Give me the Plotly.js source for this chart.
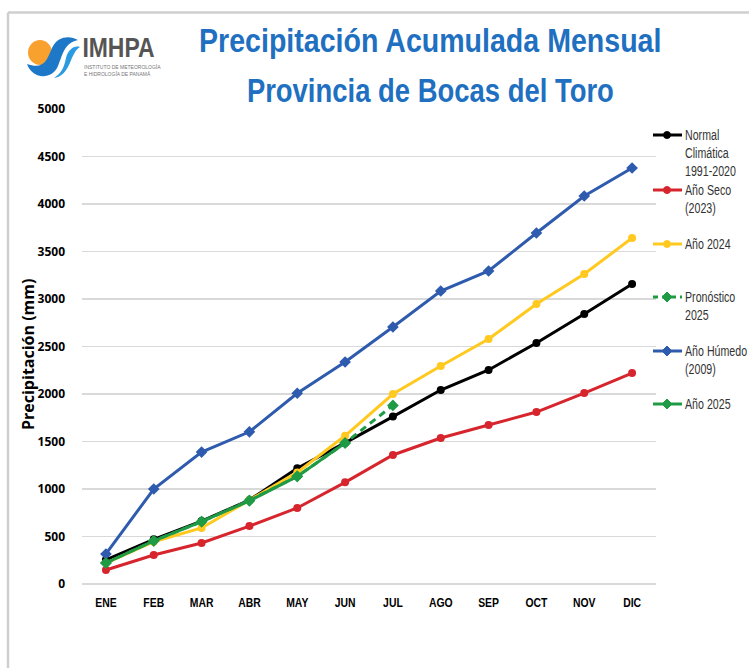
<!DOCTYPE html>
<html>
<head>
<meta charset="utf-8">
<script src="https://cdn.plot.ly/plotly-3.0.1.min.js"></script>
<style>
  html, body { margin: 0; padding: 0; background: #ffffff; }
  #chart { width: 749px; height: 668px; }
</style>
</head>
<body>
<div id="chart"></div>
<script>
// ---- Data ----
const months = ["ENE", "FEB", "MAR", "ABR", "MAY", "JUN", "JUL", "AGO", "SEP", "OCT", "NOV", "DIC"];
const normalClimatica = [255, 470, 662, 884, 1218, 1485, 1762, 2042, 2253, 2537, 2842, 3158];
const anoSeco2023 = [147, 305, 432, 610, 800, 1070, 1358, 1537, 1674, 1810, 2010, 2221];
const ano2024 = [220, 445, 590, 884, 1175, 1560, 2000, 2295, 2579, 2947, 3263, 3642];
const pronostico2025 = [221, 455, 656, 880, 1133, 1484, 1880];
const anoHumedo2009 = [316, 1000, 1389, 1602, 2008, 2337, 2705, 3084, 3295, 3695, 4084, 4379];
const ano2025 = [221, 455, 656, 876, 1133, 1484];
const yTicks = [0, 500, 1000, 1500, 2000, 2500, 3000, 3500, 4000, 4500, 5000];

const legendLabels = [
  "Normal<br>Climática<br>1991-2020",
  "Año Seco<br>(2023)",
  "Año 2024",
  "Pronóstico<br>2025",
  "Año Húmedo<br>(2009)",
  "Año 2025"
];

const C_BLACK = "#000000", C_RED = "#D7252E", C_YEL = "#FFC91F",
      C_BLUE = "#2E5BAD", C_GREEN = "#1F9A45", C_TITLE = "#1F70C1";

const SANS = "Liberation Sans, Arial, sans-serif";
const OPEN = "Open Sans, Liberation Sans, sans-serif";

// ---- Geometry helpers (page pixels -> paper coords) ----
const L = 82, R = 656, T = 109, B = 584;
const W = 749, H = 668;
function px(x) { return (x - L) / (R - L); }
function py(y) { return (B - y) / (B - T); }

function series(y, color, symbol, dash, name) {
  return {
    x: months.slice(0, y.length), y: y, type: "scatter", mode: "lines+markers",
    name: name, showlegend: false, hoverinfo: "x+y",
    line: { color: color, width: 3, dash: dash || "solid" },
    marker: { color: color, size: symbol === "diamond" ? 9 : 8, symbol: symbol }
  };
}

const traces = [
  series(normalClimatica, C_BLACK, "circle", null, "Normal Climática 1991-2020"),
  series(anoSeco2023, C_RED, "circle", null, "Año Seco (2023)"),
  series(ano2024, C_YEL, "circle", null, "Año 2024"),
  series(pronostico2025, C_GREEN, "diamond", "7px,5px", "Pronóstico 2025"),
  series(anoHumedo2009, C_BLUE, "diamond", null, "Año Húmedo (2009)"),
  series(ano2025, C_GREEN, "diamond", null, "Año 2025")
];

// ---- Manual legend (evenly spaced like the original) ----
const legendColors = [C_BLACK, C_RED, C_YEL, C_GREEN, C_BLUE, C_GREEN];
const legendSymbols = ["circle", "circle", "circle", "diamond", "diamond", "diamond"];
const legendDash = [false, false, false, true, false, false];
const legendY = [135, 190, 244, 297, 351, 404];

const shapes = [];
const annotations = [];
const condense = {};   // annotation index -> horizontal condensation factor

legendLabels.forEach((lab, i) => {
  const yy = legendY[i];
  shapes.push({
    type: "line", xref: "paper", yref: "paper",
    x0: px(653), x1: px(682), y0: py(yy), y1: py(yy),
    line: { color: legendColors[i], width: 3, dash: legendDash[i] ? "5px,4px" : "solid" }
  });
  if (legendSymbols[i] === "circle") {
    shapes.push({
      type: "circle", xref: "paper", yref: "paper",
      x0: px(663.5), x1: px(670.5), y0: py(yy + 3.5), y1: py(yy - 3.5),
      fillcolor: legendColors[i], line: { color: legendColors[i], width: 1 }
    });
  } else {
    const cx = 667, r = 5;
    shapes.push({
      type: "path", xref: "paper", yref: "paper",
      path: `M ${px(cx)} ${py(yy - r)} L ${px(cx + r)} ${py(yy)} L ${px(cx)} ${py(yy + r)} L ${px(cx - r)} ${py(yy)} Z`,
      fillcolor: legendColors[i], line: { color: legendColors[i], width: 1 }
    });
  }
  condense[annotations.length] = 0.76;
  annotations.push({
    xref: "paper", yref: "paper", x: px(683), y: py(yy - 10),
    xanchor: "left", yanchor: "top", align: "left", showarrow: false,
    text: lab, font: { family: SANS, size: 14, color: "#333333" }
  });
});

// ---- Title ----
condense[annotations.length] = 0.84;
annotations.push({
  xref: "paper", yref: "paper", x: px(430), y: py(40), xanchor: "center", yanchor: "middle",
  showarrow: false, text: "Precipitación Acumulada Mensual",
  font: { family: SANS, size: 34, color: C_TITLE, weight: "bold" }
});
condense[annotations.length] = 0.807;
annotations.push({
  xref: "paper", yref: "paper", x: px(430), y: py(90), xanchor: "center", yanchor: "middle",
  showarrow: false, text: "Provincia de Bocas del Toro",
  font: { family: SANS, size: 34, color: C_TITLE, weight: "bold" }
});

// ---- Y axis title ----
annotations.push({
  xref: "paper", yref: "paper", x: px(28), y: py(355), xanchor: "center", yanchor: "middle",
  showarrow: false, textangle: -90, text: "Precipitación (mm)",
  font: { family: OPEN, size: 16, color: "#000000", weight: "bold" }
});

// ---- Logo ----
condense[annotations.length] = 0.85;
annotations.push({
  xref: "paper", yref: "paper", x: px(118.5), y: py(48), xanchor: "center", yanchor: "middle",
  showarrow: false, text: "IMHPA",
  font: { family: SANS, size: 27, color: "#555555", weight: "bold" }
});
annotations.push({
  xref: "paper", yref: "paper", x: px(82), y: py(71), xanchor: "left", yanchor: "middle",
  showarrow: false, align: "left",
  text: "INSTITUTO DE METEOROLOGÍA<br>E HIDROLOGÍA DE PANAMÁ",
  font: { family: SANS, size: 5, color: "#777777" }
});
// sun
shapes.push({
  type: "circle", xref: "paper", yref: "paper",
  x0: px(28), x1: px(52), y0: py(65), y1: py(40),
  fillcolor: "#F9A12E", line: { width: 0 }
});
// blue swoosh
function P(x, y) { return `${px(x)},${py(y)}`; }
shapes.push({
  type: "path", xref: "paper", yref: "paper",
  path: `M ${P(27, 64)} C ${P(33, 80)} ${P(52, 80)} ${P(58, 66)} C ${P(63, 54)} ${P(64, 43)} ${P(78, 40)} ` +
        `C ${P(70, 35)} ${P(57, 36)} ${P(52, 48)} C ${P(47, 60)} ${P(44, 70)} ${P(27, 64)} Z`,
  fillcolor: "#1E78C8", line: { width: 0 }
});
shapes.push({
  type: "path", xref: "paper", yref: "paper",
  path: `M ${P(54, 78)} C ${P(68, 76)} ${P(70, 60)} ${P(74, 54)} C ${P(76, 50)} ${P(78, 48)} ${P(80, 47)} ` +
        `C ${P(74, 45)} ${P(68, 50)} ${P(66, 58)} C ${P(64, 67)} ${P(62, 73)} ${P(54, 78)} Z`,
  fillcolor: "#2A9BE0", line: { width: 0 }
});

// ---- Frame (screenshot border) ----
shapes.push({
  type: "line", xref: "paper", yref: "paper",
  x0: px(8), x1: px(749), y0: py(12.5), y1: py(12.5),
  line: { color: "#cfcfcf", width: 2.5 }
});
shapes.push({
  type: "line", xref: "paper", yref: "paper",
  x0: px(8), x1: px(8), y0: py(12.5), y1: py(668),
  line: { color: "#cfcfcf", width: 2.5 }
});

const layout = {
  width: W, height: H,
  margin: { l: L, r: W - R, t: T, b: H - B, pad: 0 },
  paper_bgcolor: "#ffffff", plot_bgcolor: "#ffffff",
  showlegend: false,
  xaxis: {
    type: "category", categoryorder: "array", categoryarray: months,
    range: [-0.5, 11.5], showgrid: false, zeroline: false, showline: false,
    ticks: "", ticklabelstandoff: 9, fixedrange: true,
    tickfont: { family: SANS, size: 13, color: "#000000", weight: "bold" }
  },
  yaxis: {
    range: [0, 5000], tickvals: yTicks, ticktext: yTicks.map(String),
    showgrid: true, gridcolor: "#d9d9d9", gridwidth: 1.5,
    zeroline: true, zerolinecolor: "#d9d9d9", zerolinewidth: 1.5,
    showline: false, ticks: "", ticklabelstandoff: 16, fixedrange: true,
    tickfont: { family: OPEN, size: 12, color: "#000000", weight: "bold" }
  },
  shapes: shapes,
  annotations: annotations
};

function squeeze(textEl, f) {
  const lines = textEl.querySelectorAll("tspan.line");
  const targets = lines.length ? Array.from(lines) : [textEl];
  targets.forEach(t => {
    const len = t.getComputedTextLength();
    if (len > 0) {
      t.setAttribute("textLength", (len * f).toFixed(2));
      t.setAttribute("lengthAdjust", "spacingAndGlyphs");
    }
  });
}

Plotly.newPlot("chart", traces, layout, { displayModeBar: false, staticPlot: true }).then(gd => {
  Object.keys(condense).forEach(idx => {
    const g = gd.querySelector(`g.annotation[data-index="${idx}"] text.annotation-text`);
    if (g) squeeze(g, condense[idx]);
  });
  gd.querySelectorAll(".xtick text").forEach(t => squeeze(t, 0.8));
});
</script>
</body>
</html>
